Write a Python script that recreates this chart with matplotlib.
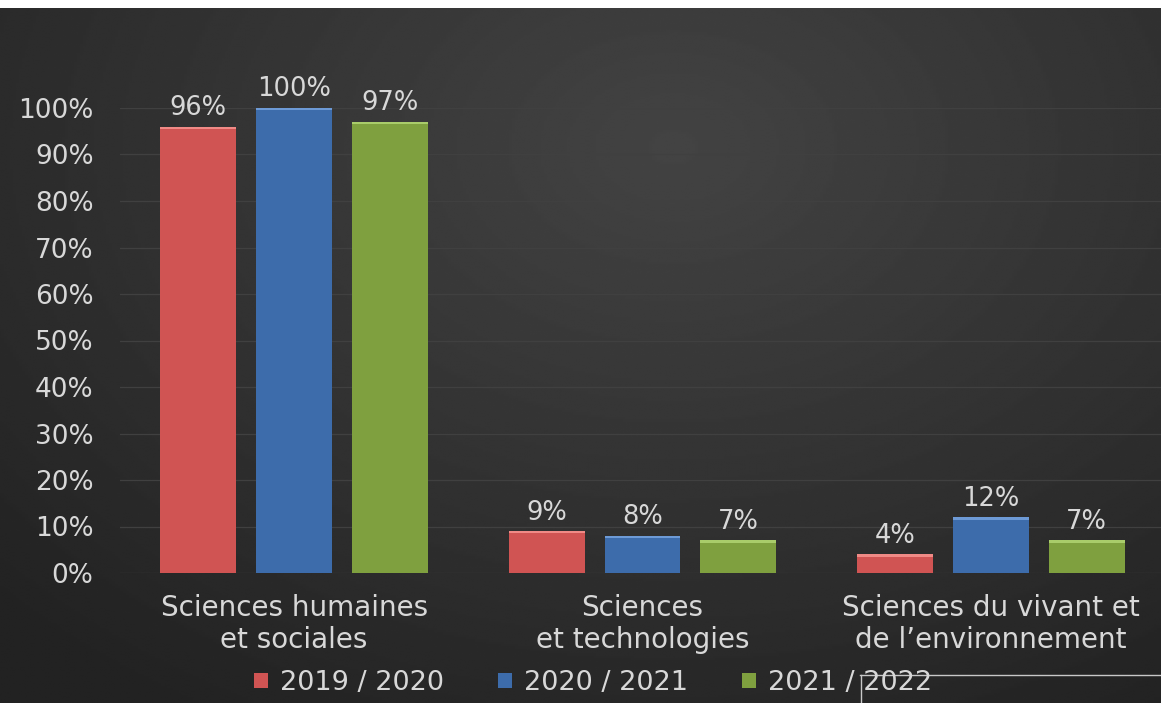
import numpy as np
import matplotlib.pyplot as plt
from matplotlib.patches import Patch
from matplotlib.lines import Line2D

# données
categories = ["Sciences humaines\net sociales", "Sciences\net technologies",
              "Sciences du vivant et\nde l\u2019environnement"]
annees = ["2019 / 2020", "2020 / 2021", "2021 / 2022"]
v_2019 = [96, 9, 4]
v_2020 = [100, 8, 12]
v_2021 = [97, 7, 7]
series = [v_2019, v_2020, v_2021]
couleurs = ["#d05453", "#3d6cab", "#7fa03f"]
couleurs_haut = ["#f08a86", "#6d9ad6", "#a9cc6a"]

TXT = "#d8d8d8"
plt.rcParams["font.family"] = ["DejaVu Sans"]

fig = plt.figure(figsize=(11.61, 7.03), dpi=100)
fig.patch.set_facecolor("white")

# fond sombre avec dégradé radial
bg = fig.add_axes([0, 0, 1, 695 / 703])
bg.set_axis_off()
xx, yy = np.meshgrid(np.linspace(0, 1, 400), np.linspace(0, 1, 300))
d = np.sqrt(((xx - 0.58) / 0.8) ** 2 + ((yy - 0.2) / 0.95) ** 2)
val = 0.265 - 0.13 * np.clip(d, 0, 1)
bg.imshow(val, cmap="gray", vmin=0, vmax=1, aspect="auto",
          extent=[0, 1, 1, 0], interpolation="bilinear")
bg.set_xlim(0, 1)
bg.set_ylim(1, 0)

ax = fig.add_axes([120 / 1161, 130 / 703, 1045 / 1161, 465 / 703])
ax.set_facecolor("none")
x = np.arange(len(categories))
pas = 0.2755
larg = 0.218
for i, (vals, c, ch) in enumerate(zip(series, couleurs, couleurs_haut)):
    pos = x + (i - 1) * pas
    ax.bar(pos, vals, width=larg, color=c, edgecolor="none", zorder=3, label=annees[i])
    ax.bar(pos, [0.5] * len(vals), bottom=np.array(vals) - 0.5, width=larg,
           color=ch, edgecolor="none", zorder=4)
    for p, v in zip(pos, vals):
        ax.text(p, v + 1.2, f"{v}%", ha="center", va="bottom", color=TXT,
                fontsize=18.5, zorder=5, clip_on=False)

ax.set_ylim(0, 100)
ax.set_xlim(-0.5, 2.5)
ax.set_yticks(np.arange(0, 101, 10))
ax.set_yticklabels([f"{t}%" for t in range(0, 101, 10)])
ax.set_xticks(x)
ax.set_xticklabels(categories)
ax.tick_params(axis="y", length=0, pad=19, labelsize=19, labelcolor=TXT)
ax.tick_params(axis="x", length=0, pad=15, labelsize=20, labelcolor=TXT)
ax.grid(axis="y", color="#404040", linewidth=0.9, zorder=0)
for s in ax.spines.values():
    s.set_visible(False)

poignees = [Patch(facecolor=c, edgecolor="none") for c in couleurs]
fig.legend(poignees, annees, loc="center", bbox_to_anchor=(0.511, 20 / 703),
           ncol=3, frameon=False, fontsize=19.5, labelcolor=TXT,
           handlelength=0.5, handleheight=0.5, handletextpad=0.45,
           columnspacing=2.0)

# trait clair en bas à droite
fig.add_artist(Line2D([860 / 1161, 1], [28 / 703, 28 / 703], color="#c8c8c8", lw=1))
fig.add_artist(Line2D([861 / 1161, 861 / 1161], [0, 28 / 703], color="#c8c8c8", lw=1))

fig.savefig("out.png", dpi=100, facecolor=fig.get_facecolor())
